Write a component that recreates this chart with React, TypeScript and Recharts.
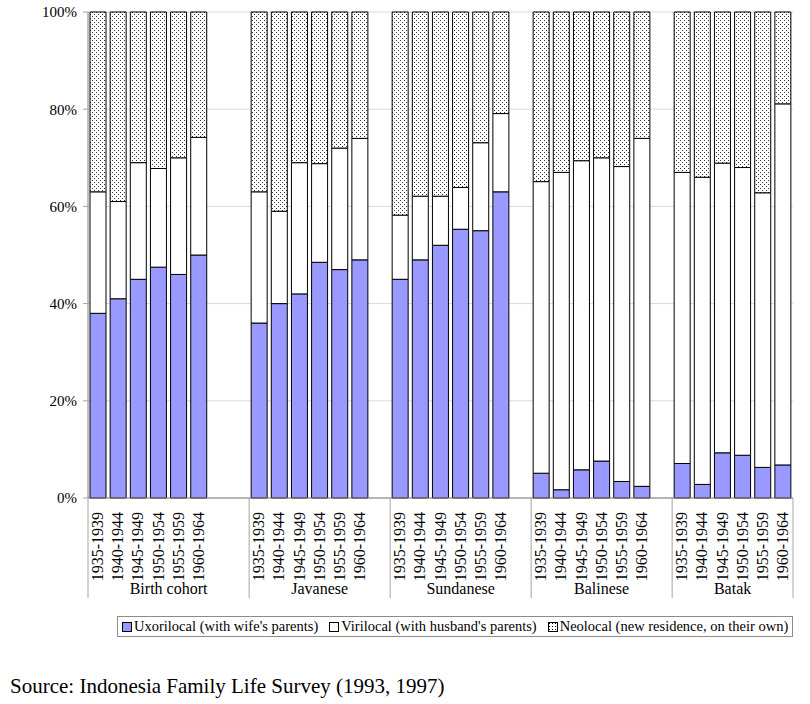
import React from 'react';
import { BarChart, Bar, XAxis, YAxis, CartesianGrid, Legend } from 'recharts';

// Residence after marriage, share of marriages by birth cohort and ethnic group
const groups = ['Birth cohort', 'Javanese', 'Sundanese', 'Balinese', 'Batak'];
const periods = ['1935-1939', '1940-1944', '1945-1949', '1950-1954', '1955-1959', '1960-1964'];
// empty category slots that follow each group on the axis
const gapSlots = [2, 1, 1, 1, 0];

const uxorilocal = [
    [38, 41, 45, 47.5, 46, 50],
    [36, 40, 42, 48.5, 47, 49],
    [45, 49, 52, 55.3, 55, 63],
    [5.1, 1.7, 5.8, 7.6, 3.4, 2.4],
    [7.1, 2.8, 9.3, 8.8, 6.3, 6.8],
];
const virilocal = [
    [25, 20, 24, 20.3, 24, 24.2],
    [27, 19, 27, 20.3, 25, 25],
    [13.2, 13.1, 10.1, 8.6, 18.1, 16.1],
    [60, 65.3, 63.6, 62.4, 64.8, 71.6],
    [59.9, 63.2, 59.6, 59.2, 56.5, 74.3],
];
const neolocal = [
    [37, 39, 31, 32.2, 30, 25.8],
    [37, 41, 31, 31.2, 28, 26],
    [41.8, 37.9, 37.9, 36.1, 26.9, 20.9],
    [34.9, 33, 30.6, 30, 31.8, 26],
    [33, 34, 31.1, 32, 37.2, 18.9],
];
const yTicks = [0, 20, 40, 60, 80, 100];

const seriesNames = [
    "Uxorilocal (with wife's parents)",
    "Virilocal (with husband's parents)",
    'Neolocal (new residence, on their own)',
];
const source = 'Source: Indonesia Family Life Survey (1993, 1997)';

type Row = {
    key: string;
    period: string;
    group: number;
    first: boolean;
    uxo?: number;
    viri?: number;
    neo?: number;
};

const rows: Row[] = [];
groups.forEach((g, gi) => {
    periods.forEach((p, pi) => {
        rows.push({
            key: `${g} ${p}`,
            period: p,
            group: gi,
            first: pi === 0,
            uxo: uxorilocal[gi][pi],
            viri: virilocal[gi][pi],
            neo: neolocal[gi][pi],
        });
    });
    for (let k = 0; k < gapSlots[gi]; k++) {
        rows.push({ key: `${g} gap ${k}`, period: '', group: gi, first: false });
    }
});

const FONT = '"Liberation Serif", "Times New Roman", serif';
const CHART_W = 810;
const CHART_H = 704;
const Y_AXIS_W = 88;
const MARGIN_RIGHT = 17;
const PLOT_W = CHART_W - Y_AXIS_W - MARGIN_RIGHT;

// Year labels, group dividers and group names under the bars
const CategoryTick = (props: any) => {
    const { x, y, index } = props;
    const row = rows[index];
    if (!row) return null;
    const slot = PLOT_W / rows.length;
    const nSlots = periods.length + gapSlots[row.group];
    const labelY = y + 14;

    return (
        <g>
            {row.period && (
                <text
                    x={x + 5}
                    y={labelY}
                    transform={`rotate(-90, ${x + 5}, ${labelY})`}
                    textAnchor="end"
                    fontSize={16}
                    fontFamily={FONT}
                    fill="#000"
                >
                    {row.period}
                </text>
            )}
            {row.first && (
                <>
                    <line x1={x - slot / 2} y1={y} x2={x - slot / 2} y2={y + 100} stroke="#a6a6a6" />
                    <text
                        x={x - slot / 2 + (nSlots * slot) / 2}
                        y={y + 96}
                        textAnchor="middle"
                        fontSize={16}
                        fontFamily={FONT}
                        fill="#000"
                    >
                        {groups[row.group]}
                    </text>
                </>
            )}
            {index === rows.length - 1 && (
                <line x1={x + slot / 2} y1={y} x2={x + slot / 2} y2={y + 100} stroke="#a6a6a6" />
            )}
        </g>
    );
};

const Marker = ({ fill }: { fill: string }) => (
    <svg width={10} height={10} style={{ marginRight: 2 }}>
        <defs>
            <pattern id="dotsLegend" width={3} height={3} patternUnits="userSpaceOnUse">
                <rect x={0} y={0} width={3} height={3} fill="#fff" />
                <rect x={1} y={1} width={1} height={1} fill="#000" />
            </pattern>
        </defs>
        <rect x={0.5} y={0.5} width={9} height={9} fill={fill} stroke="#000" />
    </svg>
);

const LegendBox = () => {
    const fills = ['#9999ff', '#ffffff', 'url(#dotsLegend)'];
    return (
        <div
            style={{
                display: 'inline-flex',
                alignItems: 'center',
                height: 21,
                boxSizing: 'border-box',
                border: '1px solid #8c8c8c',
                padding: '0 4px',
                fontFamily: FONT,
                fontSize: 14.5,
                whiteSpace: 'nowrap',
                background: '#fff',
            }}
        >
            {seriesNames.map((name, i) => (
                <span key={name} style={{ marginRight: i < 2 ? 11 : 0, display: 'inline-flex', alignItems: 'center' }}>
                    <Marker fill={fills[i]} />
                    {name}
                </span>
            ))}
        </div>
    );
};

export default function App() {
    return (
        <div style={{ position: 'absolute', left: 0, top: 0, width: CHART_W, height: CHART_H, background: '#fff' }}>
            <BarChart
                width={CHART_W}
                height={CHART_H}
                data={rows}
                margin={{ top: 12, right: MARGIN_RIGHT, left: 0, bottom: 67 }}
                barCategoryGap="10%"
            >
                <defs>
                    <pattern id="dots" width={4} height={4} patternUnits="userSpaceOnUse">
                        <rect x={0} y={0} width={4} height={4} fill="#fff" />
                        <rect x={0} y={0} width={1} height={1} fill="#333" />
                        <rect x={2} y={2} width={1} height={1} fill="#333" />
                    </pattern>
                </defs>

                <CartesianGrid vertical={false} stroke="#d9d9d9" />

                <XAxis
                    dataKey="key"
                    interval={0}
                    height={118}
                    tickSize={0}
                    tickMargin={0}
                    tickLine={false}
                    axisLine={{ stroke: '#808080' }}
                    tick={<CategoryTick />}
                />

                <YAxis
                    width={Y_AXIS_W}
                    domain={[0, 100]}
                    ticks={yTicks}
                    tickFormatter={(v) => `${v}%`}
                    tickSize={5}
                    tickMargin={6}
                    tickLine={{ stroke: '#a6a6a6' }}
                    axisLine={{ stroke: '#808080' }}
                    tick={{ fontSize: 15, fontFamily: FONT, fill: '#000' }}
                />

                <Legend
                    verticalAlign="bottom"
                    content={() => <LegendBox />}
                    wrapperStyle={{ left: 117, width: 'auto', bottom: 67 }}
                />

                <Bar dataKey="uxo" name={seriesNames[0]} stackId="a" fill="#9999ff" stroke="#000" strokeWidth={1} isAnimationActive={false} />
                <Bar dataKey="viri" name={seriesNames[1]} stackId="a" fill="#ffffff" stroke="#000" strokeWidth={1} isAnimationActive={false} />
                <Bar dataKey="neo" name={seriesNames[2]} stackId="a" fill="url(#dots)" stroke="#000" strokeWidth={1} isAnimationActive={false} />
            </BarChart>

            <div
                style={{
                    position: 'absolute',
                    left: 10,
                    top: 674,
                    fontFamily: FONT,
                    fontSize: 21,
                    whiteSpace: 'nowrap',
                    color: '#000',
                }}
            >
                {source}
            </div>
        </div>
    );
}
